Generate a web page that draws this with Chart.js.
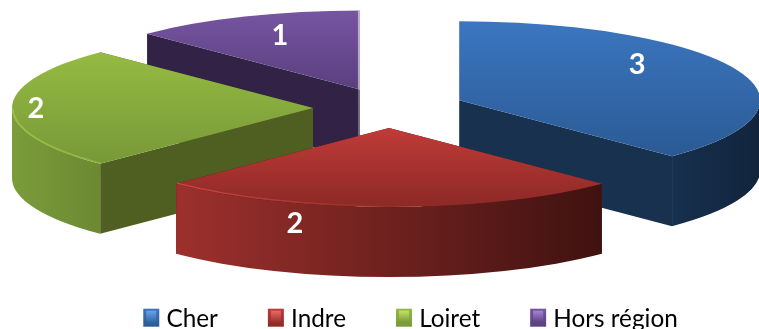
<!DOCTYPE html>
<html>
<head>
<meta charset="utf-8">
<title>Répartition</title>
<script src="https://cdn.jsdelivr.net/npm/chart.js@4"></script>
<style>
    html, body { margin: 0; padding: 0; background: #fff; overflow: hidden; }
    canvas { display: block; }
</style>
</head>
<body>
<canvas id="pieChart" width="759" height="329"></canvas>
<script>
const categories = ['Cher', 'Indre', 'Loiret', 'Hors région'];
const values = [3, 2, 2, 1];

// couleurs : face du dessus [haut, bas], paroi plate, paroi courbe [gauche, droite], liseré
const topColors = [['#3b76bf', '#2b5a95'], ['#c03b38', '#8c2926'], ['#95bb42', '#789838'], ['#7655a2', '#5a3f7e']];
const flatWallColors = ['#17314f', '#4a1513', '#4f5f21', '#312246'];
const curveWallColors = [['#16304e', '#12243c'], ['#9d302d', '#3f1210'], ['#7b9c3a', '#6c8932'], ['#312246', '#312246']];
const rimColors = [null, '#cc4541', '#98c040', null];
const swatchColors = [['#6aa4e8', '#2f639f'], ['#e86a66', '#972e2b'], ['#c2e464', '#76953a'], ['#a684d4', '#5b3f80']];

// projection de la tarte
const centerX = 389, centerY = 108, squash = 0.2625, depth = 70;
// décalage des étiquettes depuis le sommet de chaque part
const labelShift = [[178, -36], [-94, 96], [-277, 1], [-80, -54]];

function project(slice, t, radius) {
    return {
        x: slice.x + Math.cos(t) * radius,
        y: slice.y + Math.sin(t) * radius * squash
    };
}

function sliceGeometry(arc, i) {
    const props = arc.getProps(['startAngle', 'endAngle', 'outerRadius']);
    const mid = (props.startAngle + props.endAngle) / 2;
    return {
        index: i,
        start: props.startAngle,
        end: props.endAngle,
        radius: props.outerRadius,
        x: centerX + Math.cos(mid) * arc.options.offset,
        y: centerY + Math.sin(mid) * arc.options.offset * squash
    };
}

function drawFlatWall(ctx, s, t) {
    const p = project(s, t, s.radius);
    ctx.beginPath();
    ctx.moveTo(s.x, s.y);
    ctx.lineTo(p.x, p.y);
    ctx.lineTo(p.x, p.y + depth);
    ctx.lineTo(s.x, s.y + depth);
    ctx.closePath();
    ctx.fillStyle = flatWallColors[s.index];
    ctx.fill();
}

function drawCurveWall(ctx, s) {
    // seule la partie tournée vers l'avant se voit
    const a = Math.max(s.start, 0);
    const b = Math.min(s.end, Math.PI);
    if (b <= a) return;
    const ry = s.radius * squash;
    const pa = project(s, a, s.radius);
    const pb = project(s, b, s.radius);
    const grad = ctx.createLinearGradient(Math.min(pa.x, pb.x), 0, Math.max(pa.x, pb.x), 0);
    grad.addColorStop(0, curveWallColors[s.index][0]);
    grad.addColorStop(1, curveWallColors[s.index][1]);
    ctx.beginPath();
    ctx.ellipse(s.x, s.y, s.radius, ry, 0, a, b);
    ctx.ellipse(s.x, s.y + depth, s.radius, ry, 0, b, a, true);
    ctx.closePath();
    ctx.fillStyle = grad;
    ctx.fill();
}

function drawTop(ctx, s) {
    const ry = s.radius * squash;
    let minY = s.y, maxY = s.y;
    [s.start, s.end].forEach(t => {
        const p = project(s, t, s.radius);
        minY = Math.min(minY, p.y);
        maxY = Math.max(maxY, p.y);
    });
    if (s.start < Math.PI / 2 && s.end > Math.PI / 2) maxY = s.y + ry;
    if (s.start < -Math.PI / 2 && s.end > -Math.PI / 2) minY = s.y - ry;
    const grad = ctx.createLinearGradient(0, minY, 0, maxY);
    grad.addColorStop(0, topColors[s.index][0]);
    grad.addColorStop(1, topColors[s.index][1]);
    ctx.beginPath();
    ctx.moveTo(s.x, s.y);
    ctx.ellipse(s.x, s.y, s.radius, ry, 0, s.start, s.end);
    ctx.closePath();
    ctx.fillStyle = grad;
    ctx.fill();
}

function drawRim(ctx, s) {
    if (!rimColors[s.index]) return;
    const a = Math.max(s.start, 0);
    const b = Math.min(s.end, Math.PI);
    const left = project(s, b, s.radius).x;
    const grad = ctx.createLinearGradient(left, 0, left + 230, 0);
    grad.addColorStop(0, rimColors[s.index]);
    grad.addColorStop(1, rimColors[s.index] + '00');
    ctx.beginPath();
    ctx.ellipse(s.x, s.y, s.radius - 1, s.radius * squash - 1, 0, a, b);
    ctx.strokeStyle = grad;
    ctx.lineWidth = 1.5;
    ctx.stroke();
}

// fine bande claire le long de l'arête verticale de la part violette
function drawEdgeTint(ctx, s) {
    if (s.index !== 3) return;
    const top = project(s, s.end, s.radius).y;
    ctx.fillStyle = 'rgba(255, 255, 255, 0.5)';
    ctx.fillRect(s.x - 2, top, 3, s.y - top);
    ctx.fillStyle = 'rgba(255, 255, 255, 0.3)';
    ctx.fillRect(s.x - 2, s.y, 3, 48);
}

const pie3d = {
    id: 'pie3d',
    beforeDatasetsDraw(chart) {
        const ctx = chart.ctx;
        const slices = chart.getDatasetMeta(0).data.map(sliceGeometry);
        const mid = s => (s.start + s.end) / 2;
        // de l'arrière vers l'avant
        const ordered = slices.slice().sort((a, b) => Math.sin(mid(a)) - Math.sin(mid(b)));
        ctx.save();
        ordered.forEach(s => {
            drawFlatWall(ctx, s, s.end);
            drawFlatWall(ctx, s, s.start);
            drawCurveWall(ctx, s);
            drawTop(ctx, s);
            drawRim(ctx, s);
            drawEdgeTint(ctx, s);
        });
        ctx.fillStyle = '#fff';
        ctx.font = 'bold 29px Lato';
        ctx.textAlign = 'center';
        ctx.textBaseline = 'middle';
        slices.forEach(s => {
            ctx.fillText(values[s.index], s.x + labelShift[s.index][0], s.y + labelShift[s.index][1]);
        });
        ctx.restore();
        return false;
    },
    afterDraw(chart) {
        const ctx = chart.ctx;
        chart.legend.legendHitBoxes.forEach((box, i) => {
            const x = box.left, y = box.top + 2;
            const outer = ctx.createLinearGradient(0, y, 0, y + 18);
            outer.addColorStop(0, topColors[i][0]);
            outer.addColorStop(1, topColors[i][1]);
            ctx.fillStyle = outer;
            ctx.fillRect(x, y, 16, 18);
            const inner = ctx.createLinearGradient(0, y + 2, 0, y + 14);
            inner.addColorStop(0, swatchColors[i][0]);
            inner.addColorStop(1, swatchColors[i][1]);
            ctx.fillStyle = inner;
            ctx.fillRect(x + 3, y + 2, 10, 12);
        });
    }
};

new Chart(document.getElementById('pieChart').getContext('2d'), {
    type: 'pie',
    data: {
        labels: categories,
        datasets: [{
            data: values,
            backgroundColor: topColors.map(c => c[0]),
            borderWidth: 0,
            offset: 76
        }]
    },
    options: {
        responsive: false,
        animation: false,
        radius: 301,
        layout: { padding: { left: 62, bottom: -12 } },
        plugins: {
            tooltip: { enabled: false },
            legend: {
                position: 'bottom',
                labels: {
                    boxWidth: 11,
                    boxHeight: 11,
                    padding: 50,
                    color: '#000',
                    font: { family: 'Lato', size: 24.3 },
                    generateLabels: chart => chart.data.labels.map((text, i) => ({
                        text: text,
                        fillStyle: 'transparent',
                        strokeStyle: 'transparent',
                        fontColor: '#000',
                        lineWidth: 0,
                        index: i
                    }))
                }
            }
        }
    },
    plugins: [pie3d]
});
</script>
</body>
</html>
